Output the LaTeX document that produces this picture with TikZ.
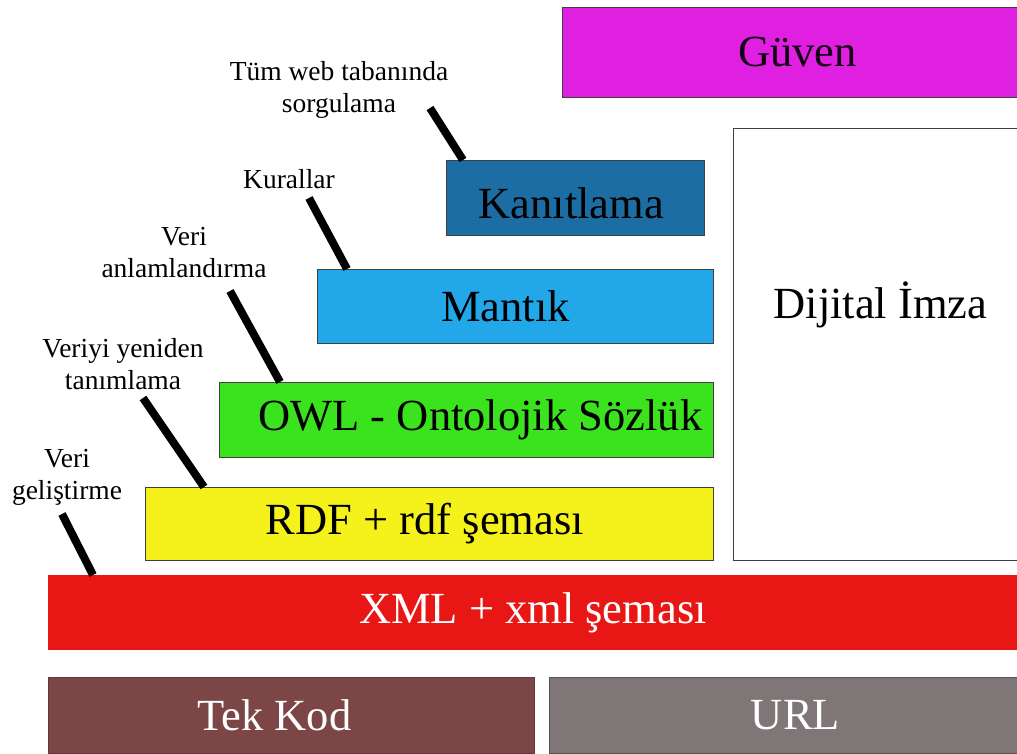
\documentclass[tikz,border=0pt]{standalone}
\usepackage{fontspec}
\setmainfont{Liberation Serif}
\definecolor{guvenc}{HTML}{E020E0}
\definecolor{kanitc}{HTML}{1C6DA3}
\definecolor{mantikc}{HTML}{22A7E9}
\definecolor{owlc}{HTML}{3BE31E}
\definecolor{rdfc}{HTML}{F5F21B}
\definecolor{xmlc}{HTML}{E91616}
\definecolor{tekc}{HTML}{7C4646}
\definecolor{urlc}{HTML}{7F7777}
\begin{document}
\begin{tikzpicture}[x=1pt,y=-1pt,
  layer/.style={draw=black!75, line width=0.8pt, anchor=north west, inner sep=0pt,
    font=\fontsize{44.5}{50}\selectfont},
  lbl/.style={align=center, inner sep=0pt, font=\fontsize{27.5}{32}\selectfont},
  leader/.style={line width=8pt, black}]
\useasboundingbox (0,0) rectangle (1017,754);
% layers
\node[layer, fill=guvenc, text=black!85!violet, minimum width=470, minimum height=90] (guven) at (562,7) {Güven};
\node[layer, fill=white, minimum width=294, minimum height=432] (dij) at (733,128) {\raisebox{26pt}[0pt][0pt]{Dijital İmza}};
\node[layer, fill=kanitc, minimum width=258, minimum height=75] (kan) at (446,160) {\raisebox{-21pt}[0pt][0pt]{\hspace*{-8pt}Kanıtlama}};
\node[layer, fill=mantikc, minimum width=396, minimum height=74] (man) at (317,269) {\hspace*{-20pt}Mantık};
\node[layer, fill=owlc, minimum width=494, minimum height=75] (owl) at (219,382) {\hspace*{28pt}OWL - Ontolojik Sözlük};
\node[layer, fill=rdfc, minimum width=568, minimum height=73] (rdf) at (145,487) {\hspace*{-9pt}RDF + rdf şeması};
\node[layer, draw=none, fill=xmlc, text=white, minimum width=969, minimum height=75] (xml) at (48,575) {XML + xml şeması};
\node[layer, draw=tekc!80!black, fill=tekc, text=white, minimum width=486, minimum height=76] (tek) at (48,677) {\hspace*{-34pt}Tek Kod};
\node[layer, draw=urlc!70!black, fill=urlc, text=white, minimum width=492, minimum height=76] (url) at (549,677) {URL};
% labels
\node[lbl] (q) at (339,90) {Tüm web tabanında\\sorgulama};
\node[lbl] (k) at (289,179) {Kurallar};
\node[lbl] (va) at (184,253) {Veri\\anlamlandırma};
\node[lbl] (vy) at (123,364) {Veriyi yeniden\\tanımlama};
\node[lbl] (vg) at (67,477) {Veri\\geliştirme};
% leader coordinates
\coordinate (s1) at (430,108); \coordinate (e1) at (463,0);
\coordinate (s2) at (309,198); \coordinate (e2) at (347,0);
\coordinate (s3) at (230,291); \coordinate (e3) at (280,0);
\coordinate (s4) at (143,398); \coordinate (e4) at (204,0);
\coordinate (s5) at (62,514);  \coordinate (e5) at (93,0);
\draw[leader] (s1) -- (kan.north -| e1);
\draw[leader] (s2) -- (man.north -| e2);
\draw[leader] (s3) -- (owl.north -| e3);
\draw[leader] (s4) -- (rdf.north -| e4);
\draw[leader] (s5) -- (xml.north -| e5);
\end{tikzpicture}
\end{document}
